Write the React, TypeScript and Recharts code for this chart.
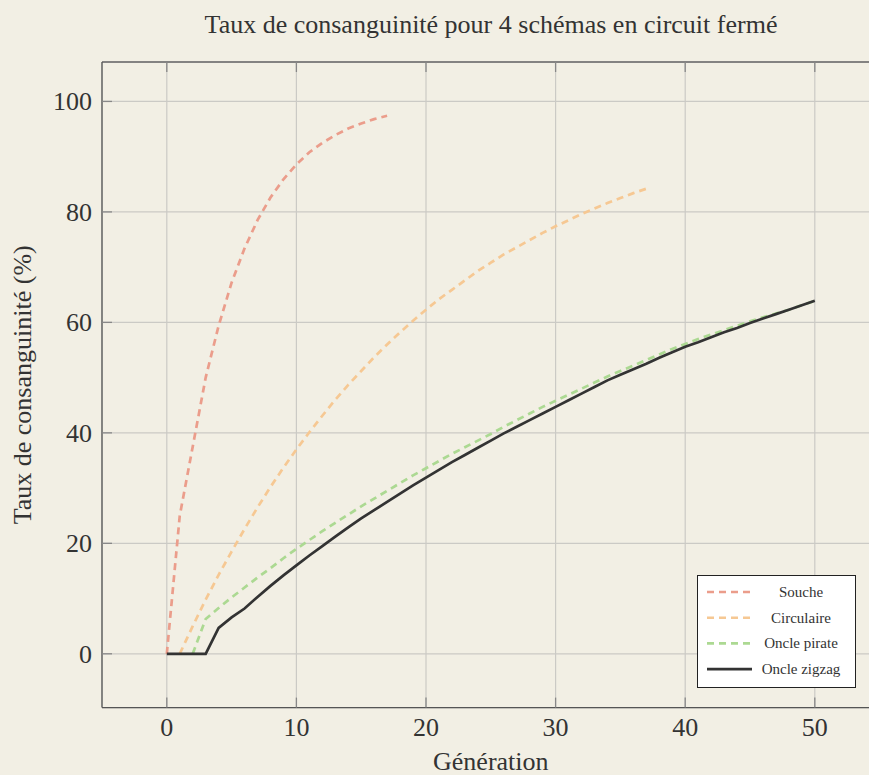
import React from "react";
import {
  LineChart,
  Line,
  XAxis,
  YAxis,
  CartesianGrid,
  Legend,
  ReferenceLine,
} from "recharts";

// generations on the x axis, rates (%) on the y axis
const generationTicks = [0, 10, 20, 30, 40, 50];
const rateTicks = [0, 20, 40, 60, 80, 100];

// Souche: generations 0..17
const soucheStart = 0;
const soucheValues = [0, 25, 37.5, 50, 59.4, 67.2, 73.4, 78.5, 82.6, 85.9, 88.6, 90.8, 92.5, 93.9, 95.1, 96.0, 96.8, 97.4];

// Circulaire: generations 1..37
const circulaireStart = 1;
const circulaireValues = [
  0, 5.0, 9.8, 14.3, 18.5, 22.6, 26.5, 30.2, 33.7, 37.0,
  40.1, 43.1, 46.0, 48.7, 51.2, 53.7, 56.0, 58.2, 60.3, 62.3,
  64.2, 65.9, 67.6, 69.3, 70.8, 72.3, 73.6, 74.9, 76.2, 77.4,
  78.5, 79.6, 80.6, 81.6, 82.5, 83.4, 84.2,
];

// Oncle pirate: generations 2..50
const pirateStart = 2;
const pirateValues = [
  0, 6.3, 8.3, 10.2, 12.0, 13.8, 15.5, 17.3, 19.0, 20.6,
  22.2, 23.7, 25.2, 26.7, 28.1, 29.5, 30.9, 32.3, 33.6, 34.9,
  36.2, 37.4, 38.6, 39.8, 41.1, 42.3, 43.5, 44.7, 45.8, 46.9,
  48.0, 49.1, 50.2, 51.2, 52.2, 53.2, 54.2, 55.2, 56.1, 57.0,
  57.8, 58.6, 59.4, 60.2, 60.9, 61.6, 62.3, 63.1, 63.9,
];

// Oncle zigzag: generations 0..50
const zigzagStart = 0;
const zigzagValues = [
  0, 0, 0, 0, 4.7, 6.6, 8.2, 10.3, 12.3, 14.2,
  16.0, 17.8, 19.5, 21.2, 22.9, 24.5, 26.0, 27.5, 29.0, 30.5,
  31.9, 33.3, 34.7, 36.0, 37.3, 38.6, 39.9, 41.1, 42.3, 43.5,
  44.7, 45.9, 47.1, 48.3, 49.5, 50.5, 51.5, 52.5, 53.6, 54.6,
  55.6, 56.4, 57.3, 58.2, 59.0, 59.9, 60.7, 61.5, 62.3, 63.1,
  63.9,
];

const toPoints = (start: number, values: number[]) =>
  values.map((v, i) => ({ gen: start + i, value: v }));

const series = [
  { name: "Souche", color: "#eb9d8b", dash: "7 5", data: toPoints(soucheStart, soucheValues) },
  { name: "Circulaire", color: "#f6c893", dash: "7 5", data: toPoints(circulaireStart, circulaireValues) },
  { name: "Oncle pirate", color: "#acd992", dash: "7 5", data: toPoints(pirateStart, pirateValues) },
  { name: "Oncle zigzag", color: "#333333", dash: undefined, data: toPoints(zigzagStart, zigzagValues) },
];

const BG = "#f2efe4";
const FONT = "'Liberation Serif', 'Times New Roman', serif";
const TEXT = "#333";
const PLOT_TOP = 62;
const PLOT_HEIGHT = 645.6;
const PLOT_LEFT = 102;
const TICK_LEN = 10;
const TICK_COLOR = "#888";

const XTick = (props: any) => {
  const { x, y, payload } = props;
  return (
    <g>
      <line x1={x} x2={x} y1={y} y2={y - TICK_LEN} stroke={TICK_COLOR} strokeWidth={1.3} />
      <line x1={x} x2={x} y1={PLOT_TOP} y2={PLOT_TOP + TICK_LEN} stroke={TICK_COLOR} strokeWidth={1.3} />
      <text x={x} y={y + 28.5} textAnchor="middle" fill={TEXT} fontFamily={FONT} fontSize={26}>
        {payload.value}
      </text>
    </g>
  );
};

const YTick = (props: any) => {
  const { x, y, payload } = props;
  return (
    <g>
      <line x1={x} x2={x + TICK_LEN} y1={y} y2={y} stroke={TICK_COLOR} strokeWidth={1.3} />
      <text x={x - 10} y={y + 9} textAnchor="end" fill={TEXT} fontFamily={FONT} fontSize={26}>
        {payload.value}
      </text>
    </g>
  );
};

const LegendBox = () => (
  <svg width={160} height={114} style={{ display: "block" }}>
    <rect x={0.5} y={0.5} width={158} height={112} fill="#ffffff" stroke="#222" strokeWidth={1} />
    {series.map((s, i) => {
      const cy = 17 + i * 25.7;
      return (
        <g key={s.name}>
          <line x1={10} x2={55} y1={cy} y2={cy} stroke={s.color} strokeWidth={2.6} strokeDasharray={s.dash} />
          <text x={104} y={cy + 5} textAnchor="middle" fill={TEXT} fontFamily={FONT} fontSize={15}>
            {s.name}
          </text>
        </g>
      );
    })}
  </svg>
);

export default function App() {
  return (
    <div style={{ position: "fixed", inset: 0, background: BG, overflow: "hidden" }}>
      <LineChart
        width={880}
        height={775}
        margin={{ top: PLOT_TOP, right: 0.4, bottom: 0, left: 0 }}
        style={{ fontFamily: FONT }}
      >
        <text x={491} y={33} textAnchor="middle" fill={TEXT} fontFamily={FONT} fontSize={26}>
          Taux de consanguinité pour 4 schémas en circuit fermé
        </text>
        <CartesianGrid stroke="#cbcac5" strokeWidth={1.2} />
        <XAxis
          dataKey="gen"
          type="number"
          domain={[-5, 55]}
          ticks={generationTicks}
          allowDataOverflow
          height={775 - PLOT_TOP - PLOT_HEIGHT}
          tickSize={0}
          tickMargin={0}
          tick={<XTick />}
          axisLine={{ stroke: "#555", strokeWidth: 1.3 }}
          label={{ value: "Génération", position: "insideBottom", offset: 5, fill: TEXT, fontFamily: FONT, fontSize: 26 }}
        />
        <YAxis
          type="number"
          domain={[-9.74, 107.14]}
          ticks={rateTicks}
          allowDataOverflow
          width={PLOT_LEFT}
          tickSize={0}
          tickMargin={0}
          tick={<YTick />}
          axisLine={{ stroke: "#555", strokeWidth: 1.3 }}
          label={{
            value: "Taux de consanguinité (%)",
            angle: -90,
            position: "insideLeft",
            offset: 22,
            fill: TEXT,
            fontFamily: FONT,
            fontSize: 26,
            style: { textAnchor: "middle" },
          }}
        />
        <ReferenceLine y={107.14} stroke="#666" strokeWidth={1.3} />
        {series.map((s) => (
          <Line
            key={s.name}
            data={s.data}
            dataKey="value"
            name={s.name}
            type="linear"
            stroke={s.color}
            strokeWidth={2.7}
            strokeDasharray={s.dash}
            dot={false}
            activeDot={false}
            isAnimationActive={false}
          />
        ))}
        <Legend
          layout="horizontal"
          align="center"
          verticalAlign="middle"
          content={<LegendBox />}
          wrapperStyle={{ position: "absolute", left: 697, top: 575, width: 160, height: 114 }}
        />
      </LineChart>
    </div>
  );
}
